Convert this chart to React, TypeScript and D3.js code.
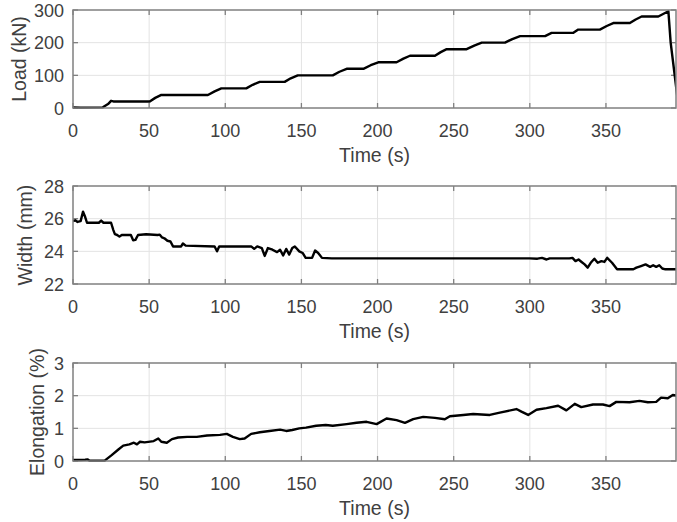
import React from 'react';
import * as d3 from 'd3';

// time (s) / load (kN)
const loadTime = [0, 5, 19.6, 23, 25, 26.5, 50.4, 54, 58, 88.6, 93, 97.4, 113.8, 118, 122.6, 139, 143, 147.6, 170.6, 175, 179.7, 190.7, 195.5, 200.5, 212.5, 217, 221.3, 237.7, 241.5, 245.4, 258.5, 263.5, 268.4, 283.7, 288.5, 293.6, 310, 314.3, 328.6, 331.8, 346, 350.5, 354.8, 365.7, 369.5, 373.4, 384.4, 391, 392.5, 397];
const loadValues = [2, 1, 2, 12, 22, 20, 20, 31, 40, 40, 51, 60, 60, 71, 80, 80, 91, 100, 100, 111, 120, 120, 131, 140, 140, 151, 160, 160, 171, 180, 180, 191, 200, 200, 211, 220, 220, 230, 230, 240, 240, 251, 260, 260, 271, 280, 280, 296, 200, 30];

// time (s) / width (mm)
const widthTime = [0, 1.5, 3, 5, 6.6, 8, 9.2, 17, 18.5, 20, 25, 26.5, 27.5, 29, 30.5, 32, 38, 39.5, 41, 42.7, 48, 55.6, 57, 58.5, 60, 62, 64, 65.7, 71, 72.2, 74, 93, 94.6, 96, 117, 119, 121, 124, 125.9, 128, 131, 134, 136, 138, 140, 142, 144, 145.7, 148.6, 150.8, 152.8, 157, 159, 161, 163.5, 170, 300, 305, 308, 311, 313, 326, 328, 330, 332, 334, 336, 338, 340, 342.4, 344.6, 347, 349, 350.8, 354, 357.3, 368, 370, 373, 376, 379, 381, 383, 385, 387, 389, 397];
const widthValues = [25.85, 25.9, 25.8, 25.85, 26.43, 26.1, 25.75, 25.75, 25.88, 25.75, 25.75, 25.3, 25.05, 25.0, 24.9, 25.0, 25.0, 24.68, 24.7, 25.0, 25.05, 25.0, 25.02, 24.85, 24.8, 24.65, 24.6, 24.3, 24.3, 24.48, 24.35, 24.3, 24.0, 24.3, 24.3, 24.15, 24.3, 24.2, 23.72, 24.2, 24.1, 23.95, 24.1, 23.75, 24.15, 23.8, 24.2, 24.3, 24.0, 23.9, 23.6, 23.6, 24.05, 23.9, 23.6, 23.57, 23.57, 23.55, 23.6, 23.5, 23.57, 23.57, 23.6, 23.4, 23.5, 23.35, 23.2, 23.0, 23.3, 23.55, 23.3, 23.4, 23.35, 23.6, 23.3, 22.9, 22.9, 23.0, 23.1, 23.2, 23.05, 23.15, 23.05, 23.15, 22.95, 22.9, 22.9];

// time (s) / elongation (%)
const elongTime = [0, 4, 8, 9.5, 11, 20.8, 25.4, 30, 33, 37, 40, 42, 44, 47, 53, 56, 58, 61.6, 65, 69, 75, 81.3, 88, 96.5, 101, 105, 109.5, 112.7, 117, 122.7, 129, 136, 140, 144, 148.6, 153, 159.7, 166, 170.6, 179.7, 186.2, 192.8, 199.4, 205.9, 212.5, 218, 223.4, 230, 237.7, 244.2, 247.5, 256.3, 262.8, 273.7, 280.3, 291.2, 294.5, 298.9, 304.4, 310.9, 318.6, 324, 329.5, 333.8, 341.5, 348, 352.4, 356.8, 365.5, 372, 377.5, 383, 386.2, 390.6, 393.9, 397];
const elongValues = [0.03, 0.03, 0.04, 0.05, 0.01, 0.01, 0.18, 0.36, 0.47, 0.51, 0.56, 0.51, 0.59, 0.57, 0.61, 0.69, 0.59, 0.56, 0.67, 0.72, 0.74, 0.74, 0.78, 0.8, 0.83, 0.74, 0.67, 0.69, 0.83, 0.88, 0.92, 0.96, 0.92, 0.95, 1.0, 1.02, 1.08, 1.1, 1.08, 1.13, 1.17, 1.2, 1.13, 1.3, 1.25, 1.17, 1.28, 1.35, 1.32, 1.28, 1.37, 1.41, 1.44, 1.41, 1.48, 1.59, 1.51, 1.41, 1.57, 1.62, 1.69, 1.55, 1.75, 1.65, 1.73, 1.73, 1.68, 1.81, 1.8, 1.84, 1.8, 1.81, 1.94, 1.92, 2.02, 2.0];

const xTicks = [0, 50, 100, 150, 200, 250, 300, 350];
const loadTicks = [0, 100, 200, 300];
const widthTicks = [22, 24, 26, 28];
const elongTicks = [0, 1, 2, 3];

const W = 677;
const H = 522;
const LEFT = 73;
const RIGHT = 676;
const FONT = '"Liberation Sans", Arial, sans-serif';
const AXIS = '#808080';
const TEXT = '#404040';

const x = d3.scaleLinear().domain([0, 396]).range([LEFT, RIGHT]);

type PanelProps = {
  id: string;
  top: number;
  bottom: number;
  domain: [number, number];
  yTicks: number[];
  t: number[];
  v: number[];
  label: string;
  labelX: number;
};

const Panel = ({ id, top, bottom, domain, yTicks, t, v, label, labelX }: PanelProps) => {
  const y = d3.scaleLinear().domain(domain).range([bottom, top]);
  const line = d3.line<number>()
    .x((d, i) => x(t[i]))
    .y(d => y(d));
  const tickLen = 5;

  return (
    <g>
      <defs>
        <clipPath id={id}>
          <rect x={LEFT} y={top - 2} width={RIGHT - LEFT} height={bottom - top + 4} />
        </clipPath>
      </defs>
      {/* grid */}
      {xTicks.slice(1).map(d => (
        <line key={'gx' + d} x1={x(d)} x2={x(d)} y1={top} y2={bottom} stroke="#e3e3e3" strokeWidth={1} />
      ))}
      {yTicks.slice(1, -1).map(d => (
        <line key={'gy' + d} x1={LEFT} x2={RIGHT} y1={y(d)} y2={y(d)} stroke="#e3e3e3" strokeWidth={1} />
      ))}
      {/* ticks */}
      {xTicks.map(d => (
        <g key={'tx' + d}>
          <line x1={x(d)} x2={x(d)} y1={bottom} y2={bottom - tickLen} stroke={AXIS} strokeWidth={1.3} />
          <line x1={x(d)} x2={x(d)} y1={top} y2={top + tickLen} stroke={AXIS} strokeWidth={1.3} />
          <text x={x(d)} y={bottom + 29} textAnchor="middle" fontSize={18} fill={TEXT} fontFamily={FONT}>{d}</text>
        </g>
      ))}
      {yTicks.map(d => (
        <g key={'ty' + d}>
          <line x1={LEFT} x2={LEFT + tickLen} y1={y(d)} y2={y(d)} stroke={AXIS} strokeWidth={1.3} />
          <line x1={RIGHT} x2={RIGHT - tickLen} y1={y(d)} y2={y(d)} stroke={AXIS} strokeWidth={1.3} />
          <text x={LEFT - 9} y={y(d) + 6.5} textAnchor="end" fontSize={18} fill={TEXT} fontFamily={FONT}>{d}</text>
        </g>
      ))}
      {/* data */}
      <path d={line(v) ?? ''} fill="none" stroke="#000" strokeWidth={2.4} strokeLinejoin="round" clipPath={`url(#${id})`} />
      {/* box */}
      <rect x={LEFT} y={top} width={RIGHT - LEFT} height={bottom - top} fill="none" stroke={AXIS} strokeWidth={1.5} />
      <text x={(LEFT + RIGHT) / 2} y={bottom + 54} textAnchor="middle" fontSize={19.5} fill={TEXT} fontFamily={FONT}>Time (s)</text>
      <text transform={`translate(${labelX},${(top + bottom) / 2}) rotate(-90)`} textAnchor="middle" fontSize={19.5} fill={TEXT} fontFamily={FONT}>{label}</text>
    </g>
  );
};

const App = () => (
  <svg width={W} height={H} style={{ position: 'absolute', left: 0, top: 0, background: '#fff' }}>
    <rect width={W} height={H} fill="#fff" />
    <Panel id="c1" top={10} bottom={108} domain={[0, 300]} yTicks={loadTicks} t={loadTime} v={loadValues} label="Load (kN)" labelX={26} />
    <Panel id="c2" top={186} bottom={284} domain={[22, 28]} yTicks={widthTicks} t={widthTime} v={widthValues} label="Width (mm)" labelX={32} />
    <Panel id="c3" top={363} bottom={461} domain={[0, 3]} yTicks={elongTicks} t={elongTime} v={elongValues} label="Elongation (%)" labelX={44} />
  </svg>
);

export default App;
